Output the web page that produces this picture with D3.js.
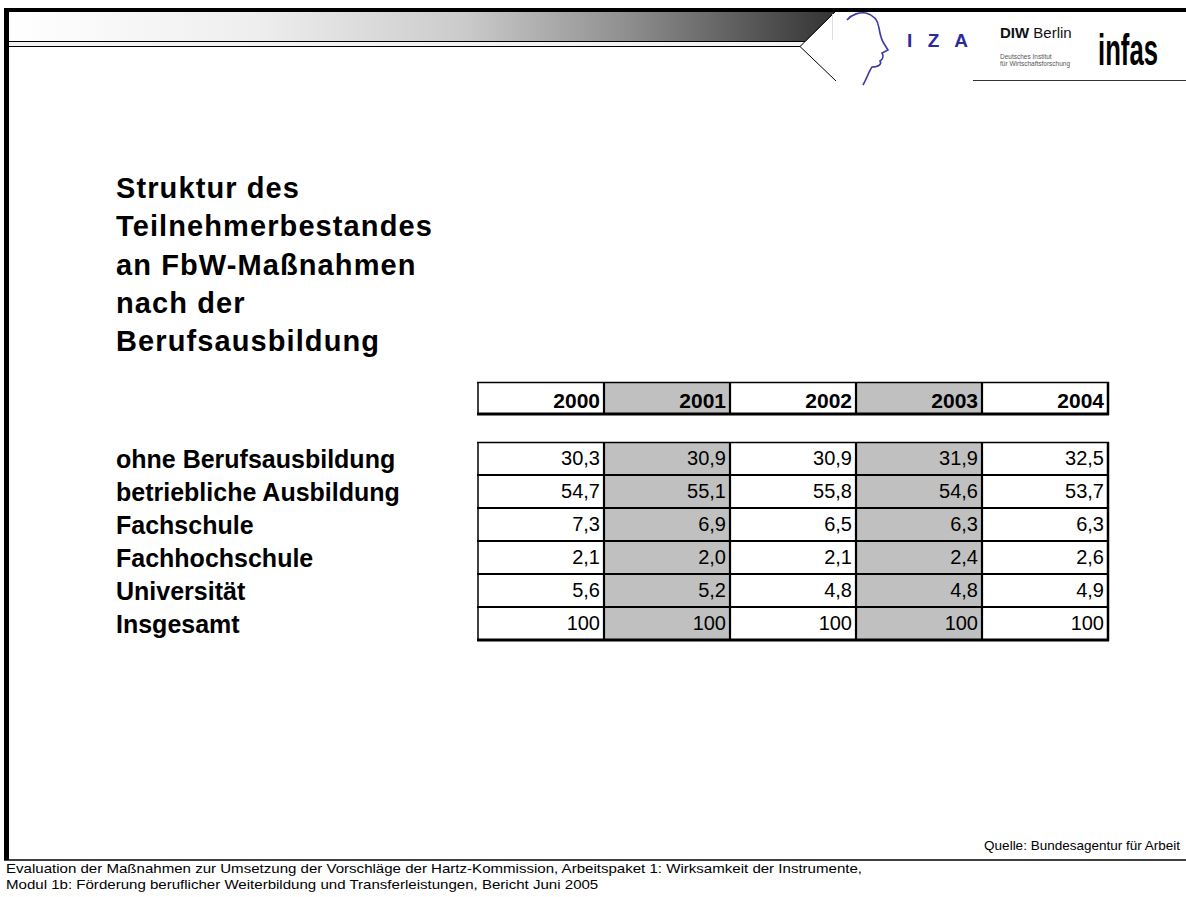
<!DOCTYPE html>
<html>
<head>
<meta charset="utf-8">
<script src="https://cdn.jsdelivr.net/npm/d3@7"></script>
<style>
  body { margin: 0; background: #fff; }
  svg { display: block; font-family: "Liberation Sans", Arial, sans-serif; }
</style>
</head>
<body>
<svg id="chart" width="1186" height="897"></svg>
<script>
// table data (Anteile in %)
var years = ["2000", "2001", "2002", "2003", "2004"];
var shadedYears = ["2001", "2003"];
var categories = ["ohne Berufsausbildung", "betriebliche Ausbildung", "Fachschule",
                  "Fachhochschule", "Universität", "Insgesamt"];
var ohneBerufsausbildung = [30.3, 30.9, 30.9, 31.9, 32.5];
var betrieblicheAusbildung = [54.7, 55.1, 55.8, 54.6, 53.7];
var fachschule = [7.3, 6.9, 6.5, 6.3, 6.3];
var fachhochschule = [2.1, 2.0, 2.1, 2.4, 2.6];
var universitaet = [5.6, 5.2, 4.8, 4.8, 4.9];
var insgesamt = [100, 100, 100, 100, 100];

var titleLines = ["Struktur des", "Teilnehmerbestandes", "an FbW-Maßnahmen", "nach der", "Berufsausbildung"];
var source = "Quelle: Bundesagentur für Arbeit";
var footer = ["Evaluation der Maßnahmen zur Umsetzung der Vorschläge der Hartz-Kommission, Arbeitspaket 1: Wirksamkeit der Instrumente,",
              "Modul 1b: Förderung beruflicher Weiterbildung und Transferleistungen, Bericht Juni 2005"];

var rows = [ohneBerufsausbildung, betrieblicheAusbildung, fachschule, fachhochschule, universitaet, insgesamt];

var de = d3.formatLocale({decimal: ",", thousands: ".", grouping: [3], currency: ["", " €"]});
var fmt1 = de.format(".1f"), fmt0 = de.format("d");

var svg = d3.select("#chart");

// ---- slide frame / header ----
var defs = svg.append("defs");
var grad = defs.append("linearGradient").attr("id", "hdr")
    .attr("gradientUnits", "userSpaceOnUse")
    .attr("x1", 9).attr("x2", 835).attr("y1", 0).attr("y2", 0);
[[0, "#ffffff"], [0.3, "#eeeeee"], [0.55, "#cbcbcb"], [0.75, "#8e8e8e"], [1, "#333333"]]
  .forEach(function(s) { grad.append("stop").attr("offset", s[0]).attr("stop-color", s[1]); });

svg.append("path").attr("d", "M9,12 L835,12 L806,41 L9,41 Z").attr("fill", "url(#hdr)");
svg.append("rect").attr("x", 9).attr("y", 41).attr("width", 795).attr("height", 5).attr("fill", "#f2f2f2");
svg.append("rect").attr("x", 4).attr("y", 8).attr("width", 1182).attr("height", 4).attr("fill", "#000");
svg.append("rect").attr("x", 4).attr("y", 8).attr("width", 5).attr("height", 852).attr("fill", "#000");
svg.append("line").attr("x1", 9).attr("x2", 805).attr("y1", 41.5).attr("y2", 41.5).attr("stroke", "#000");
svg.append("line").attr("x1", 9).attr("x2", 800).attr("y1", 46.5).attr("y2", 46.5).attr("stroke", "#000");
svg.append("path").attr("d", "M835,12 L800,46.5 L836,81").attr("fill", "none").attr("stroke", "#000").attr("stroke-width", 1);
svg.append("line").attr("x1", 832.5).attr("x2", 832.5).attr("y1", 14).attr("y2", 40).attr("stroke", "#ddd");
svg.append("line").attr("x1", 973).attr("x2", 1186).attr("y1", 80.5).attr("y2", 80.5).attr("stroke", "#333");

// logos
svg.append("path")
    .attr("d", "M847,20 C852,14 860,12 866,13 C874,15 878,21 879,28 C880,34 881,38 883,42 L888,50 L882,53 C884,56 883,59 880,61 C882,64 879,67 872,67 C869,71 867,78 863,85")
    .attr("fill", "none").attr("stroke", "#3b3ba8").attr("stroke-width", 1.6);
svg.append("text").attr("x", 907).attr("y", 47).attr("font-size", 19).attr("font-weight", "bold")
    .attr("textLength", 61).attr("lengthAdjust", "spacing")
    .attr("fill", "#2b2b9e").text("I Z A");
var diw = svg.append("text").attr("x", 1000).attr("y", 38).attr("font-size", 15).attr("fill", "#111");
diw.append("tspan").attr("font-weight", "bold").text("DIW");
diw.append("tspan").text(" Berlin");
svg.append("text").attr("x", 1000).attr("y", 59).attr("font-size", 6.5).attr("fill", "#555").text("Deutsches Institut");
svg.append("text").attr("x", 1000).attr("y", 66).attr("font-size", 6.5).attr("fill", "#555").text("für Wirtschaftsforschung");
var infas = svg.append("text").attr("font-size", 44).attr("font-weight", "bold")
    .attr("font-family", "'Liberation Sans Narrow', 'Liberation Sans', sans-serif")
    .attr("fill", "#000").text("infas");
var sx = 60 / infas.node().getComputedTextLength();
infas.attr("transform", "translate(1098,65) scale(" + sx + ",1)");

// ---- title ----
svg.append("g").selectAll("text").data(titleLines).enter().append("text")
    .attr("x", 116).attr("y", function(d, i) { return 198 + i * 38.25; })
    .attr("font-size", 29).attr("font-weight", "bold").attr("letter-spacing", 1.1)
    .attr("fill", "#000").text(function(d) { return d; });

// ---- table ----
var x = d3.scaleBand().domain(years).range([478, 1108]);
var y = d3.scaleBand().domain(categories).range([442, 640]);
var hdrTop = 382, hdrBot = 414;

// row labels
svg.append("g").selectAll("text").data(categories).enter().append("text")
    .attr("x", 116).attr("y", function(d) { return y(d) + y.bandwidth() / 2 + 9; })
    .attr("font-size", 25).attr("font-weight", "bold").attr("fill", "#000")
    .text(function(d) { return d; });

// header row
var hdr = svg.append("g");
hdr.selectAll("rect").data(years).enter().append("rect")
    .attr("x", function(d) { return x(d); }).attr("y", hdrTop)
    .attr("width", x.bandwidth()).attr("height", hdrBot - hdrTop)
    .attr("fill", function(d) { return shadedYears.indexOf(d) >= 0 ? "#c0c0c0" : "#fff"; });
hdr.selectAll("text").data(years).enter().append("text")
    .attr("x", function(d) { return x(d) + x.bandwidth() - 4; }).attr("y", hdrBot - 6)
    .attr("text-anchor", "end").attr("font-size", 21).attr("font-weight", "bold")
    .text(function(d) { return d; });

// body cells
var cells = [];
rows.forEach(function(vals, r) {
  vals.forEach(function(v, c) { cells.push({cat: categories[r], year: years[c], v: v, total: r === rows.length - 1}); });
});
var body = svg.append("g");
body.selectAll("rect").data(cells).enter().append("rect")
    .attr("x", function(d) { return x(d.year); }).attr("y", function(d) { return y(d.cat); })
    .attr("width", x.bandwidth()).attr("height", y.bandwidth())
    .attr("fill", function(d) { return shadedYears.indexOf(d.year) >= 0 ? "#c0c0c0" : "#fff"; });
body.selectAll("text").data(cells).enter().append("text")
    .attr("x", function(d) { return x(d.year) + x.bandwidth() - 4; })
    .attr("y", function(d) { return y(d.cat) + y.bandwidth() - 10; })
    .attr("text-anchor", "end").attr("font-size", 20).attr("fill", "#000")
    .text(function(d) { return d.total ? fmt0(d.v) : fmt1(d.v); });

// grid lines
var lines = svg.append("g").attr("stroke", "#000");
function hline(yy, w) { lines.append("line").attr("x1", 477).attr("x2", 1109).attr("y1", yy).attr("y2", yy).attr("stroke-width", w); }
function vline(xx, y0, y1, w) { lines.append("line").attr("x1", xx).attr("x2", xx).attr("y1", y0).attr("y2", y1).attr("stroke-width", w); }
hline(hdrTop + 0.5, 1.5);
hline(hdrBot, 3);
hline(y.range()[0] + 0.5, 1.5);
categories.slice(1).forEach(function(c) { hline(y(c), 2.2); });
hline(y.range()[1], 3);
years.forEach(function(yr, i) {
  var w = i === 0 ? 1.5 : 2.2;
  vline(x(yr), hdrTop, hdrBot, w);
  vline(x(yr), y.range()[0], y.range()[1], w);
});
vline(x.range()[1], hdrTop, hdrBot + 1, 2.5);
vline(x.range()[1], y.range()[0], y.range()[1] + 1, 2.5);

// ---- footer ----
svg.append("text").attr("x", 1180).attr("y", 850).attr("text-anchor", "end")
    .attr("font-size", 13.5).attr("fill", "#000").text(source);
svg.append("line").attr("x1", 4).attr("x2", 1186).attr("y1", 860).attr("y2", 860).attr("stroke", "#000").attr("stroke-width", 1.5);
var foot = svg.append("g").selectAll("text").data(footer).enter().append("text")
    .attr("x", 6).attr("y", function(d, i) { return 873 + i * 16; })
    .attr("font-size", 13).attr("fill", "#000").text(function(d) { return d; });
// the footer font is a condensed face in the original: stretch both lines by the same factor
var k = 856 / foot.nodes()[0].getComputedTextLength();
foot.each(function() {
  d3.select(this).attr("textLength", this.getComputedTextLength() * k).attr("lengthAdjust", "spacingAndGlyphs");
});
</script>
</body>
</html>
